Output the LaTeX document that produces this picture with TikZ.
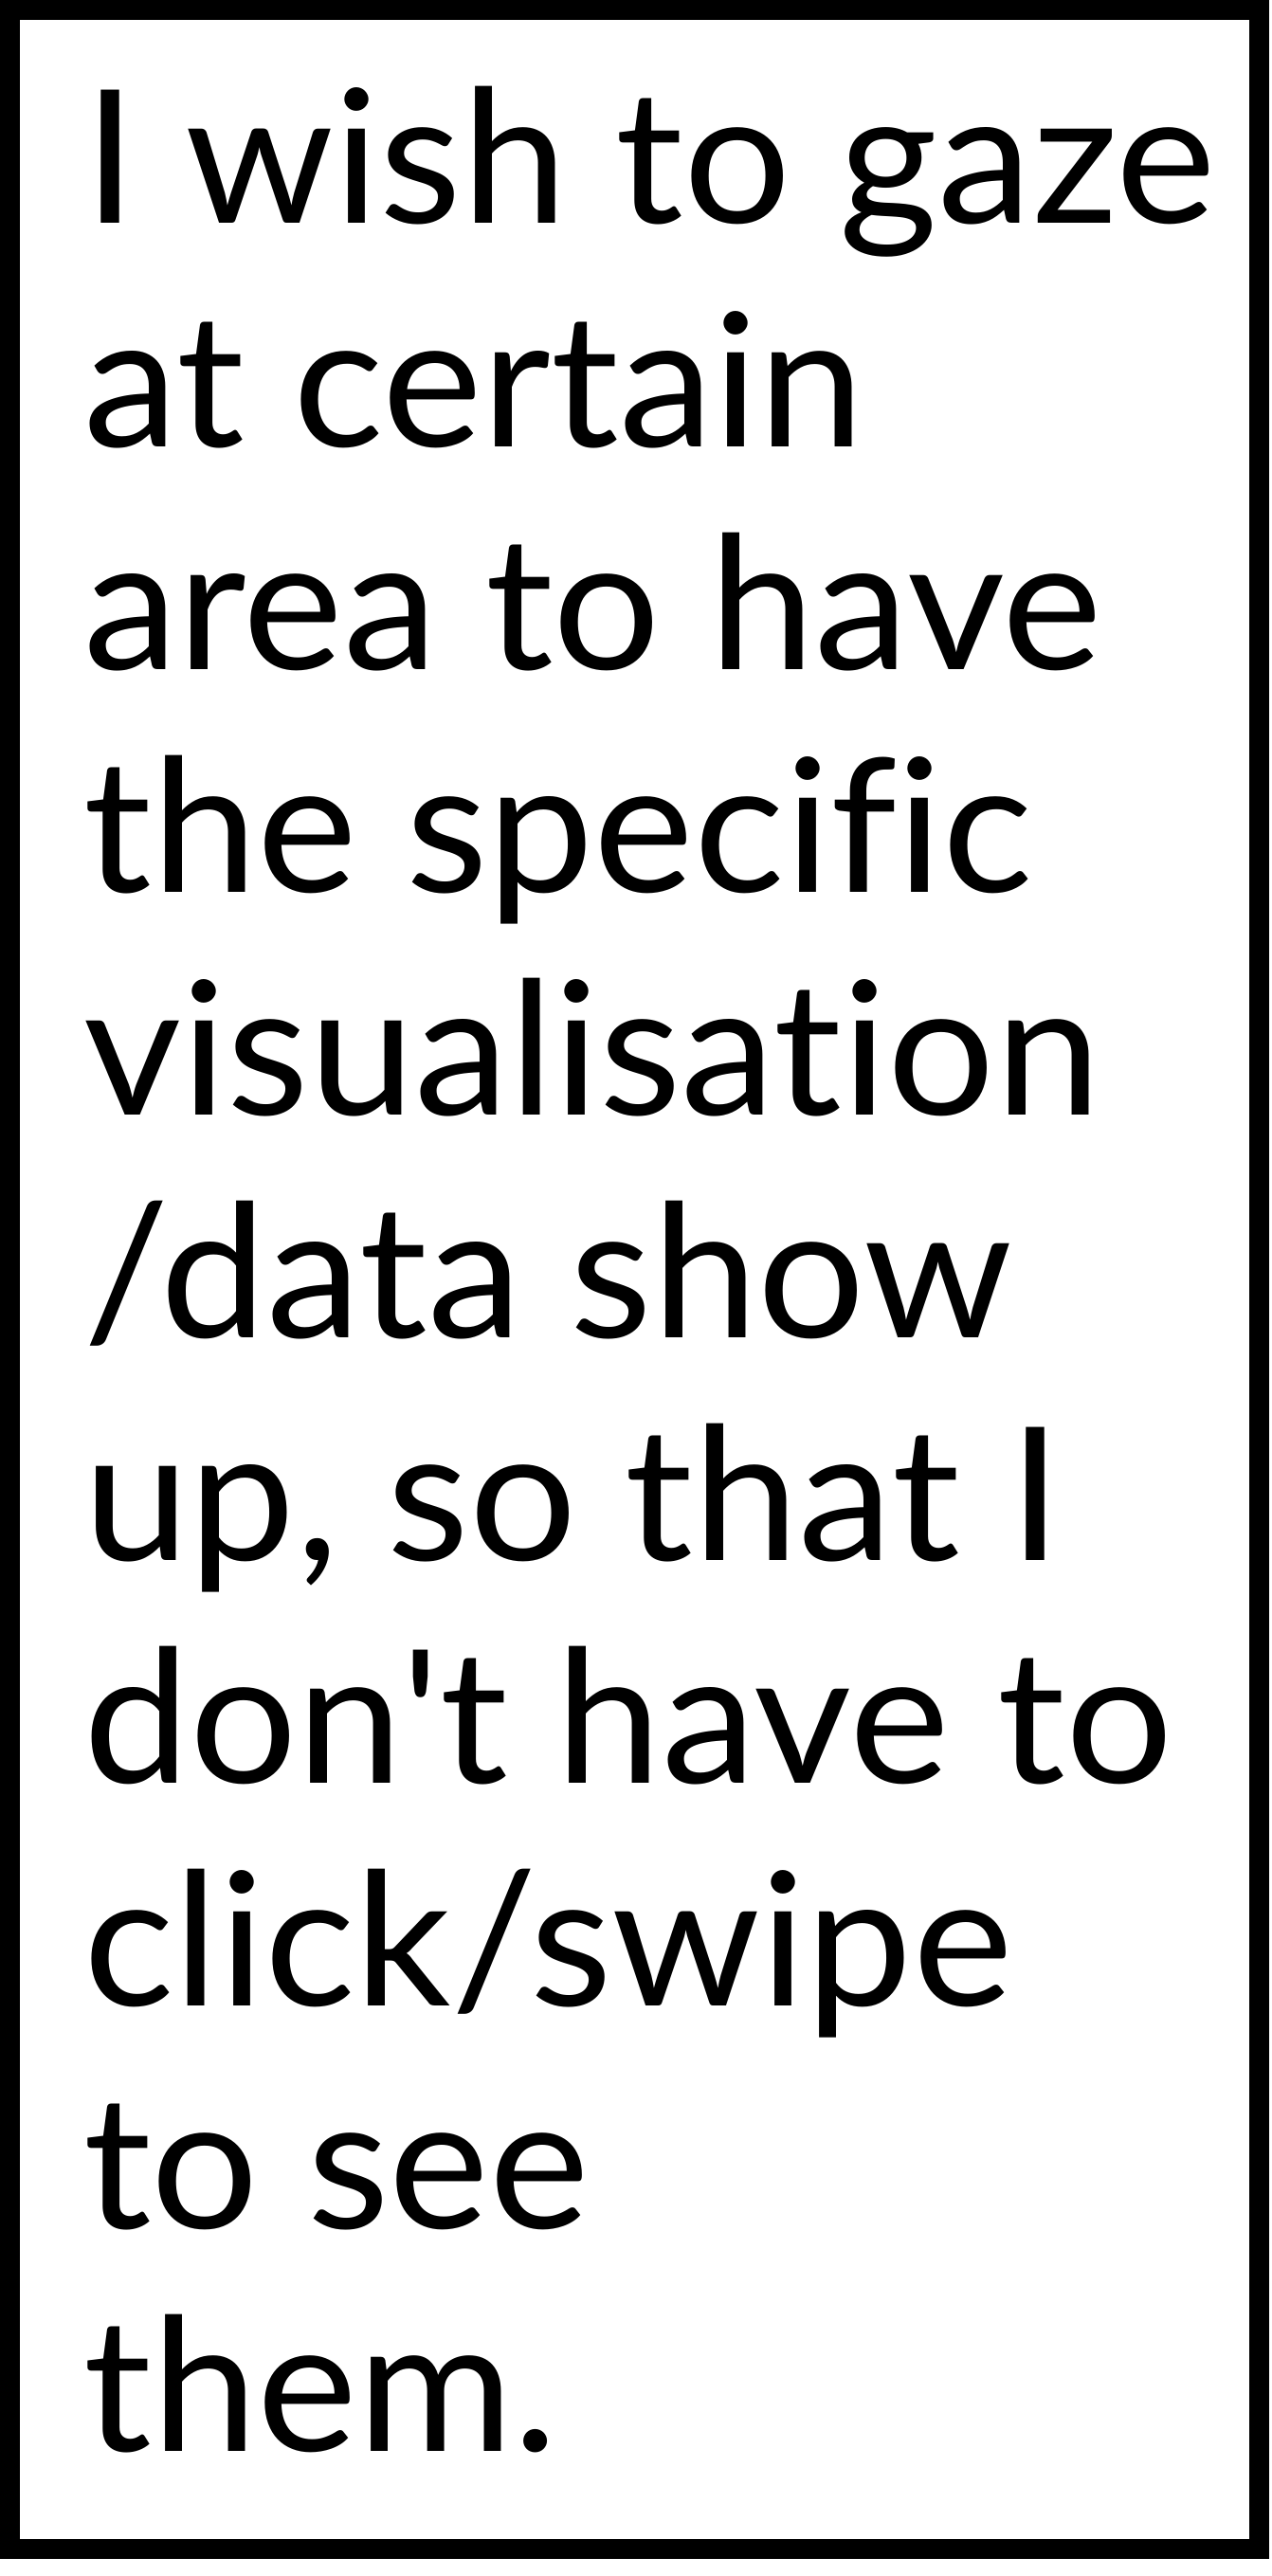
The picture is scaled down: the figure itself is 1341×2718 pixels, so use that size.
\documentclass[tikz,border=0pt]{standalone}
\usepackage{fontspec}
\setmainfont{Lato}[Ligatures={TeXOff,NoCommon}, FakeStretch=1.02]
\begin{document}
\begin{tikzpicture}[
    x=0.5pt, y=-0.5pt,
    frame/.style={draw, line width=10.5pt},
    storyline/.style={anchor=base west, inner sep=0pt, font=\fontsize{98}{117}\selectfont}
]
\useasboundingbox (0,0) rectangle (1341,2718);
% Rahmen
\draw[frame] (10.5,10.5) rectangle (1328.5,2689.5);
% Text Zeile fuer Zeile
\foreach \txt [count=\i] in {I wish to gaze, at certain, area to have, the specific,
    visualisation, /data show, {up, so that I}, don't have to, click/swipe, to see, them.}
  \node[storyline] (line\i) at (88,{236+(\i-1)*235}) {\txt};
\end{tikzpicture}
\end{document}
